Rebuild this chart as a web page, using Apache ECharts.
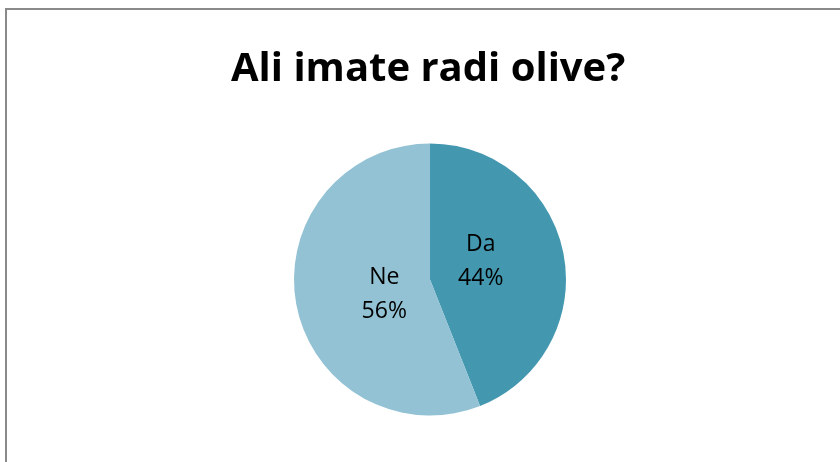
<!DOCTYPE html>
<html>
<head>
<meta charset="utf-8">
<script src="https://cdn.jsdelivr.net/npm/echarts@6/dist/echarts.min.js"></script>
<style>
html,body{margin:0;padding:0;background:#fff;}
#frame{position:absolute;left:5px;top:8px;width:850px;height:470px;border:2px solid #8a8a8a;box-sizing:border-box;}
#chart{position:absolute;left:0;top:0;width:840px;height:462px;}
</style>
</head>
<body>
<div id="frame"></div>
<div id="chart"></div>
<script>
const titleText = 'Ali imate radi olive?';
const categories = ['Da', 'Ne'];
const values = [44, 56];
const colors = ['#4398B0', '#93C2D4'];
const labelShift = [[-19, -5], [24, 2]];

const chart = echarts.init(document.getElementById('chart'), null, {renderer: 'canvas'});
chart.setOption({
  backgroundColor: 'transparent',
  animation: false,
  title: {
    text: titleText,
    left: 231,
    top: 50,
    padding: 0,
    textStyle: {fontFamily: 'Open Sans', fontWeight: 'bold', fontSize: 40, color: '#000'}
  },
  series: [{
    type: 'pie',
    center: [430, 279.5],
    radius: [0, 136],
    startAngle: 90,
    clockwise: true,
    silent: true,
    label: {
      show: true,
      position: 'inside',
      formatter: '{b}\n{d}%',
      fontFamily: 'Open Sans',
      fontSize: 23,
      lineHeight: 34,
      color: '#000'
    },
    labelLine: {show: false},
    labelLayout: function (p) {
      return {dx: labelShift[p.dataIndex][0], dy: labelShift[p.dataIndex][1]};
    },
    itemStyle: {borderWidth: 0},
    data: categories.map((c, i) => ({name: c, value: values[i], itemStyle: {color: colors[i]}}))
  }]
});
</script>
</body>
</html>
